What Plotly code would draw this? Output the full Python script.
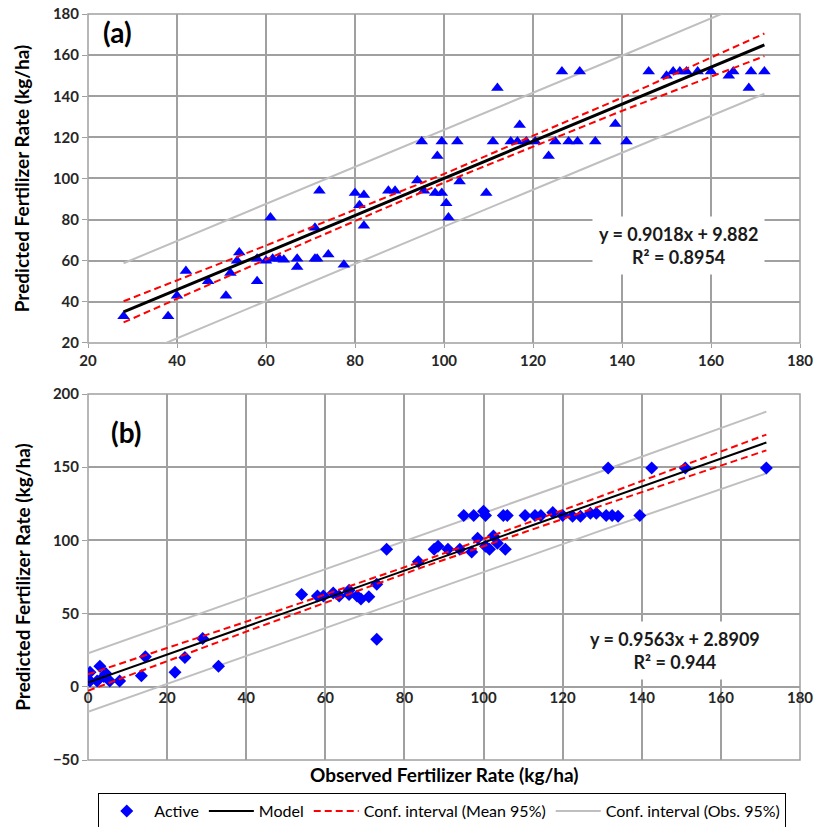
import plotly.graph_objects as go

# ---------------- Panel (a) data ----------------
obs_a = [28, 38, 40, 42, 47, 51, 52, 54, 53.5, 58, 58, 60, 61, 61.5, 63, 64, 67, 67, 71, 71.5,
         71, 72, 74, 77.5, 80, 81, 82, 82, 87.5, 89, 94, 95, 95.5, 98, 98.5, 99.5, 99.5, 100.5,
         101, 103, 103.5, 109.5, 111, 112, 115, 116.5, 117, 118.5, 120.5, 123.5, 125, 126.5,
         128, 130, 130.5, 134, 138.5, 141, 146, 150, 151.5, 153, 154.5, 157, 160, 164, 165,
         168.5, 169, 172]
pred_a = [33, 33, 43, 55, 50, 43, 54, 64, 60, 50, 61, 60, 81, 61, 61, 60.5, 61, 57, 61, 61,
          76, 94, 63, 58, 93, 87, 92, 77, 94, 94, 99, 118, 94, 93, 111, 118, 93, 88,
          81, 118, 98.5, 93, 118, 144, 118, 118, 126, 118, 118, 111, 118, 152,
          118, 118, 152, 118, 126.5, 118, 152, 150, 152, 152, 152, 152, 152, 150, 152,
          144, 152, 152]

band_x_a = [28, 60, 100, 140, 172]
model_a = [35.1, 64.0, 100.1, 136.1, 165.0]
mean_hi_a = [40.3, 67.4, 102.2, 139.3, 170.5]
mean_lo_a = [30.0, 60.6, 98.0, 132.9, 159.5]
obs_hi_a = [58.8, 87.6, 123.6, 159.7, 188.8]
obs_lo_a = [11.4, 40.4, 76.6, 112.5, 141.2]

# ---------------- Panel (b) data ----------------
obs_b = [0.5, 0.5, 2.3, 3, 4, 4.5, 5.5, 8, 13.5, 14.5, 22, 24.5, 29, 33, 54, 58, 59.5, 62,
         63.5, 66, 66, 68, 69, 71, 73, 73, 75.5, 83.5, 87.5, 88.5, 91, 94, 97, 98.5, 95,
         97.5, 100.5, 100, 100.5, 101.5, 103.5, 102.5, 105.5, 105, 106, 110.5, 113, 114.5,
         117.5, 120, 122.5, 124.5, 127, 128.5, 131, 132.5, 134, 131.5, 139.5, 142.5, 151,
         171.5]
pred_b = [10, 4, 4, 14, 7, 9, 4, 4, 7.5, 20.5, 10, 20, 33, 14, 63, 62, 62, 64,
          62, 63, 66, 62, 60, 61.5, 70, 32.5, 94, 85.5, 94, 96, 94, 94, 92, 101.5, 117,
          117, 117, 120, 96, 94, 98, 103, 94, 117, 117, 117, 117, 117,
          119, 117, 116.5, 116.5, 118.5, 118.5, 117, 117, 116.5, 149.5, 117, 149.5, 149.5,
          149.5]

band_x_b = [0, 40, 85, 130, 171.5]
model_b = [2.9, 41.1, 84.2, 127.2, 166.9]
mean_hi_b = [8.5, 44.5, 86.3, 130.5, 172.3]
mean_lo_b = [-2.7, 37.7, 82.1, 123.9, 161.5]
obs_hi_b = [22.9, 61.2, 104.3, 147.4, 188.0]
obs_lo_b = [-17.1, 21.0, 64.1, 107.0, 145.8]

ticks_x = [20, 40, 60, 80, 100, 120, 140, 160, 180]
ticks_x_b = [0, 20, 40, 60, 80, 100, 120, 140, 160, 180]
ticks_y_a = [20, 40, 60, 80, 100, 120, 140, 160, 180]
ticks_y_b = [-50, 0, 50, 100, 150, 200]

FONT = "Lato"
BLUE = "#0000FF"
RED = "#FF0000"
GRAY_BAND = "#BFBFBF"
GRID = "#A0A0A0"

fig = go.Figure()

def add_panel(xs, ys, bx, model, mhi, mlo, ohi, olo, xa, ya, symbol, msize, lw_model, show):
    fig.add_trace(go.Scatter(x=bx, y=ohi, mode="lines", line=dict(color=GRAY_BAND, width=2),
                             name="Conf. interval (Obs. 95%)", legendgroup="obs", showlegend=show,
                             xaxis=xa, yaxis=ya, legendrank=4))
    fig.add_trace(go.Scatter(x=bx, y=olo, mode="lines", line=dict(color=GRAY_BAND, width=2),
                             name="Conf. interval (Obs. 95%)", legendgroup="obs", showlegend=False,
                             xaxis=xa, yaxis=ya))
    fig.add_trace(go.Scatter(x=xs, y=ys, mode="markers",
                             marker=dict(symbol=symbol, size=msize, color=BLUE, line=dict(width=0)),
                             name="Active", showlegend=show, xaxis=xa, yaxis=ya, legendrank=1))
    fig.add_trace(go.Scatter(x=bx, y=mhi, mode="lines", line=dict(color=RED, width=2, dash="7px,4px"),
                             name="Conf. interval (Mean 95%)", legendgroup="mean", showlegend=show,
                             xaxis=xa, yaxis=ya, legendrank=3))
    fig.add_trace(go.Scatter(x=bx, y=mlo, mode="lines", line=dict(color=RED, width=2, dash="7px,4px"),
                             name="Conf. interval (Mean 95%)", legendgroup="mean", showlegend=False,
                             xaxis=xa, yaxis=ya))
    fig.add_trace(go.Scatter(x=[bx[0], bx[-1]], y=[model[0], model[-1]], mode="lines",
                             line=dict(color="black", width=lw_model),
                             name="Model", showlegend=show, xaxis=xa, yaxis=ya, legendrank=2))

add_panel(obs_a, pred_a, band_x_a, model_a, mean_hi_a, mean_lo_a, obs_hi_a, obs_lo_a,
          "x", "y", "triangle-up", 11, 3, False)
add_panel(obs_b, pred_b, band_x_b, model_b, mean_hi_b, mean_lo_b, obs_hi_b, obs_lo_b,
          "x2", "y2", "diamond", 10, 2, True)

tickfont = dict(family=FONT, size=15, color="#262626", weight="bold")
axis_common = dict(showgrid=True, gridcolor=GRID, gridwidth=1.5, zeroline=False,
                   showline=False, tickfont=tickfont, ticklabeloverflow="allow",
                   automargin=False)

fig.update_layout(
    width=816, height=827,
    margin=dict(l=88, r=16, t=14, b=67),
    paper_bgcolor="white", plot_bgcolor="white",
    font=dict(family=FONT),
    xaxis=dict(domain=[0, 1], anchor="y", range=[20, 180], tickvals=ticks_x,
               ticks="outside", ticklen=4, tickcolor=GRID, **axis_common),
    yaxis=dict(domain=[0.559, 1], anchor="x", range=[20, 180], tickvals=ticks_y_a,
               ticks="outside", ticklen=5, tickcolor=GRID, **axis_common),
    xaxis2=dict(domain=[0, 1], anchor="free", position=0.0979, range=[0, 180],
                tickvals=ticks_x_b, ticks="", **axis_common),
    yaxis2=dict(domain=[0, 0.4906], anchor="x2", range=[-50, 200], tickvals=ticks_y_b,
                ticks="outside", ticklen=5, tickcolor=GRID, **axis_common),
    showlegend=True,
    legend=dict(orientation="h", xref="container", yref="container",
                x=0.542, xanchor="center", y=0.041, yanchor="top",
                bordercolor="black", borderwidth=1, bgcolor="white",
                font=dict(family=FONT, size=16, color="black"),
                traceorder="normal", itemwidth=45),
)

# plot area borders
for xr, yr in [("x domain", "y domain"), ("x2 domain", "y2 domain")]:
    fig.add_shape(type="rect", xref=xr, yref=yr, x0=0, x1=1, y0=0, y1=1,
                  line=dict(color=GRID, width=1.5), fillcolor="rgba(0,0,0,0)", layer="below")

title_font = dict(family=FONT, size=19, color="black", weight="bold")
fig.add_annotation(text="Predicted Fertilizer Rate (kg/ha)", textangle=-90, xref="paper", yref="y domain",
                   x=-0.093, y=0.5, xanchor="center", yanchor="middle", showarrow=False, font=title_font)
fig.add_annotation(text="Predicted Fertilizer Rate (kg/ha)", textangle=-90, xref="paper", yref="y2 domain",
                   x=-0.093, y=0.5, xanchor="center", yanchor="middle", showarrow=False, font=title_font)
fig.add_annotation(text="Observed Fertilizer Rate (kg/ha)", xref="paper", yref="paper",
                   x=0.5, y=-0.020, xanchor="center", yanchor="middle", showarrow=False, font=title_font)

label_font = dict(family=FONT, size=28, color="black", weight="bold")
fig.add_annotation(text="(a)", xref="x domain", yref="y domain", x=0.041, y=0.945,
                   xanchor="center", yanchor="middle", showarrow=False, font=label_font)
fig.add_annotation(text="(b)", xref="x2 domain", yref="y2 domain", x=0.053, y=0.895,
                   xanchor="center", yanchor="middle", showarrow=False, font=label_font)

eq_font = dict(family=FONT, size=18, color="#1a1a1a", weight="bold")
fig.add_annotation(text="y = 0.9018x + 9.882<br>R² = 0.8954", xref="x domain", yref="y domain",
                   x=0.829, y=0.295, xanchor="center", yanchor="middle", showarrow=False,
                   font=eq_font, bgcolor="white", borderpad=6, align="center")
fig.add_annotation(text="y = 0.9563x + 2.8909<br>R² = 0.944", xref="x2 domain", yref="y2 domain",
                   x=0.825, y=0.30, xanchor="center", yanchor="middle", showarrow=False,
                   font=eq_font, bgcolor="white", borderpad=6, align="center")

fig.write_html(
    "out.html",
    config={"displayModeBar": False},
    post_script="document.body.style.margin='0';"
                "document.documentElement.style.overflow='hidden';",
)
